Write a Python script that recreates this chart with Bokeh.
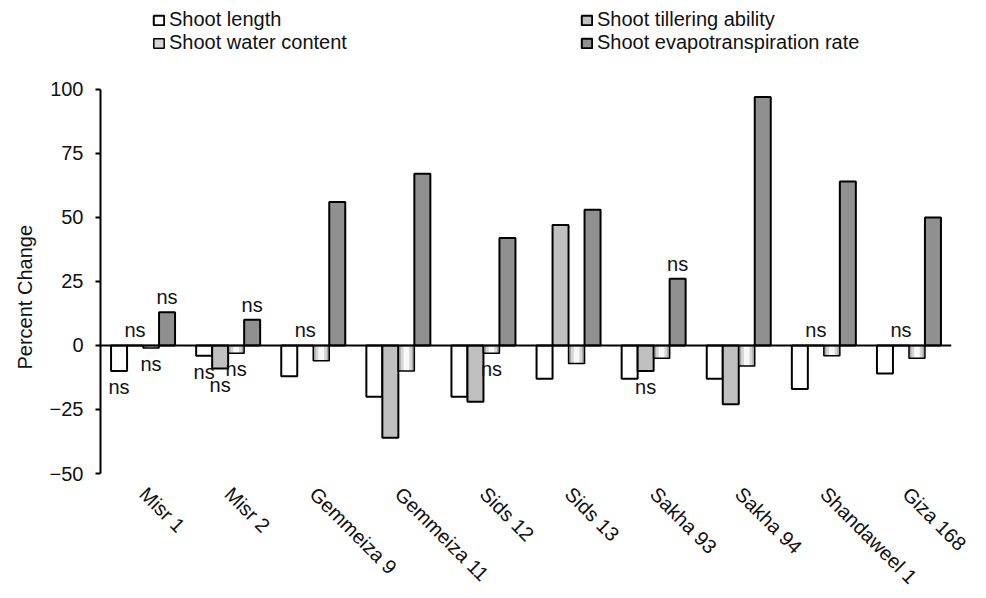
import math
from bokeh.plotting import figure
from bokeh.models import (FactorRange, ColumnDataSource, Span, Legend, LegendItem,
                          FixedTicker, CanvasTexture, Title)
from bokeh.transform import dodge
from bokeh.core.properties import value
from bokeh.embed import file_html
from bokeh.resources import INLINE

# ---------------- data ----------------
cultivars = ["Misr 1", "Misr 2", "Gemmeiza 9", "Gemmeiza 11", "Sids 12",
             "Sids 13", "Sakha 93", "Sakha 94", "Shandaweel 1", "Giza 168"]
shoot_length = [-10, -4, -12, -20, -20, -13, -13, -13, -17, -11]
shoot_tillering = [0, -9, 0, -36, -22, 47, -10, -23, 0, 0]
shoot_water = [-1, -3, -6, -10, -3, -7, -5, -8, -4, -5]
shoot_evap = [13, 10, 56, 67, 42, 53, 26, 97, 64, 50]
y_ticks = [-50, -25, 0, 25, 50, 75, 100]

# non-significant markers: (cultivar, series)
ns_cultivar = ["Misr 1", "Misr 1", "Misr 1", "Misr 1",
               "Misr 2", "Misr 2", "Misr 2", "Misr 2",
               "Gemmeiza 9", "Sids 12", "Sakha 93", "Sakha 93",
               "Shandaweel 1", "Giza 168"]
ns_series = ["length", "tillering", "water", "evap",
             "length", "tillering", "water", "evap",
             "tillering", "water", "tillering", "evap",
             "tillering", "tillering"]

FONT = "Liberation Sans"
TXT = "#111111"

series_values = {"length": shoot_length, "tillering": shoot_tillering,
                 "water": shoot_water, "evap": shoot_evap}
series_offset = {"length": -0.282, "tillering": -0.094, "water": 0.094, "evap": 0.282}
BW = 0.188

src = ColumnDataSource(dict(cultivar=cultivars, length=shoot_length,
                            tillering=shoot_tillering, water=shoot_water,
                            evap=shoot_evap))

checker_tex = CanvasTexture(repetition="repeat", code="""
ctx.fillStyle = 'white'; ctx.fillRect(0, 0, scale, scale);
ctx.fillStyle = 'black'; var h = scale / 2;
ctx.fillRect(0, 0, h, h); ctx.fillRect(h, h, h, h);
""")
dots_tex = CanvasTexture(repetition="repeat", code="""
ctx.fillStyle = 'white'; ctx.fillRect(0, 0, scale, scale);
ctx.fillStyle = 'black'; var h = scale / 2;
ctx.fillRect(h / 2, h / 2, h, h);
""")

# frame spans the whole top (legend sits inside it); axis drawn only -50..100
p = figure(x_range=FactorRange(*cultivars), y_range=(-50, 134.7), title=None,
           width=970, height=598, output_backend="svg", toolbar_location=None,
           min_border_left=100, min_border_right=19, min_border_top=0,
           min_border_bottom=124)
p.outline_line_color = None
p.xgrid.grid_line_color = None
p.ygrid.grid_line_color = None
p.background_fill_color = "white"
p.border_fill_color = "white"

# bars
r_len = p.vbar(x=dodge("cultivar", series_offset["length"], range=p.x_range),
               top="length", width=BW, source=src, fill_color="white",
               line_color="black", line_width=2)
r_til = p.vbar(x=dodge("cultivar", series_offset["tillering"], range=p.x_range),
               top="tillering", width=BW, source=src, fill_color="white",
               hatch_pattern=value("dots"), hatch_extra={"dots": dots_tex},
               hatch_scale=8, hatch_alpha=1.0,
               line_color="black", line_width=2)
wx = dodge("cultivar", series_offset["water"], range=p.x_range)
r_wbase = p.vbar(x=wx, top="water", width=BW, source=src, fill_color="#a6a6a6", line_color=None)
r_wmid = p.vbar(x=wx, top="water", width=BW * 0.7, source=src, fill_color="#d6d6d6", line_color=None)
r_wcen = p.vbar(x=wx, top="water", width=BW * 0.35, source=src, fill_color="#f8f8f8", line_color=None)
r_wout = p.vbar(x=wx, top="water", width=BW, source=src, fill_color=None,
                line_color="black", line_width=1.5)
r_evap = p.vbar(x=dodge("cultivar", series_offset["evap"], range=p.x_range),
                top="evap", width=BW, source=src, fill_color="white",
                hatch_pattern=value("checker"), hatch_extra={"checker": checker_tex},
                hatch_scale=14, hatch_alpha=1.0,
                line_color="black", line_width=2)

# zero line
p.add_layout(Span(location=0, dimension="width", line_color="black", line_width=2))

# ns labels
for s in ["length", "tillering", "water", "evap"]:
    cs, ys, dys = [], [], []
    for c, ser in zip(ns_cultivar, ns_series):
        if ser != s:
            continue
        v = series_values[s][cultivars.index(c)]
        cs.append(c)
        ys.append(v)
        dys.append(-15 if v >= 0 else 16)
    if not cs:
        continue
    nsrc = ColumnDataSource(dict(cultivar=cs, y=ys, dy=dys, t=["ns"] * len(cs)))
    p.text(x=dodge("cultivar", series_offset[s], range=p.x_range), y="y", text="t",
           y_offset="dy", source=nsrc, text_align="center", text_baseline="middle",
           text_font=value(FONT), text_font_size="20px", text_color=TXT)

# axes
p.yaxis.ticker = FixedTicker(ticks=y_ticks)
p.yaxis.bounds = (-50, 100)
p.yaxis.axis_line_width = 2
p.yaxis.major_tick_line_width = 2
p.yaxis.major_tick_in = 0
p.yaxis.major_tick_out = 5
p.yaxis.minor_tick_line_color = None
p.yaxis.major_label_text_font = FONT
p.yaxis.major_label_text_font_size = "20px"
p.yaxis.major_label_text_color = TXT
p.yaxis.major_label_standoff = 12

p.add_layout(Title(text="Percent Change", align="left", offset=104,
                   text_font=FONT, text_font_size="20px", text_font_style="normal",
                   text_color=TXT, standoff=21), "left")

p.xaxis.axis_line_color = None
p.xaxis.major_tick_line_color = None
p.xaxis.minor_tick_line_color = None
p.xaxis.major_label_orientation = -math.pi / 4
p.xaxis.major_label_text_font = FONT
p.xaxis.major_label_text_font_size = "20px"
p.xaxis.major_label_text_color = TXT
p.xaxis.major_label_standoff = 11

# legends (inside the frame, above the axis bounds)
leg_style = dict(label_text_font=FONT, label_text_font_size="20px",
                 label_text_color=TXT, glyph_width=13, glyph_height=12,
                 label_standoff=4, spacing=0, padding=0, margin=0,
                 border_line_color=None, background_fill_alpha=0)
leg1 = Legend(items=[LegendItem(label="Shoot length", renderers=[r_len]),
                     LegendItem(label="Shoot water content", renderers=[r_wmid, r_wout])],
              location=(52, 419), **leg_style)
leg2 = Legend(items=[LegendItem(label="Shoot tillering ability", renderers=[r_til]),
                     LegendItem(label="Shoot evapotranspiration rate", renderers=[r_evap])],
              location=(480, 419), **leg_style)
p.add_layout(leg1)
p.add_layout(leg2)

open("out.html", "w").write(file_html(p, INLINE))
